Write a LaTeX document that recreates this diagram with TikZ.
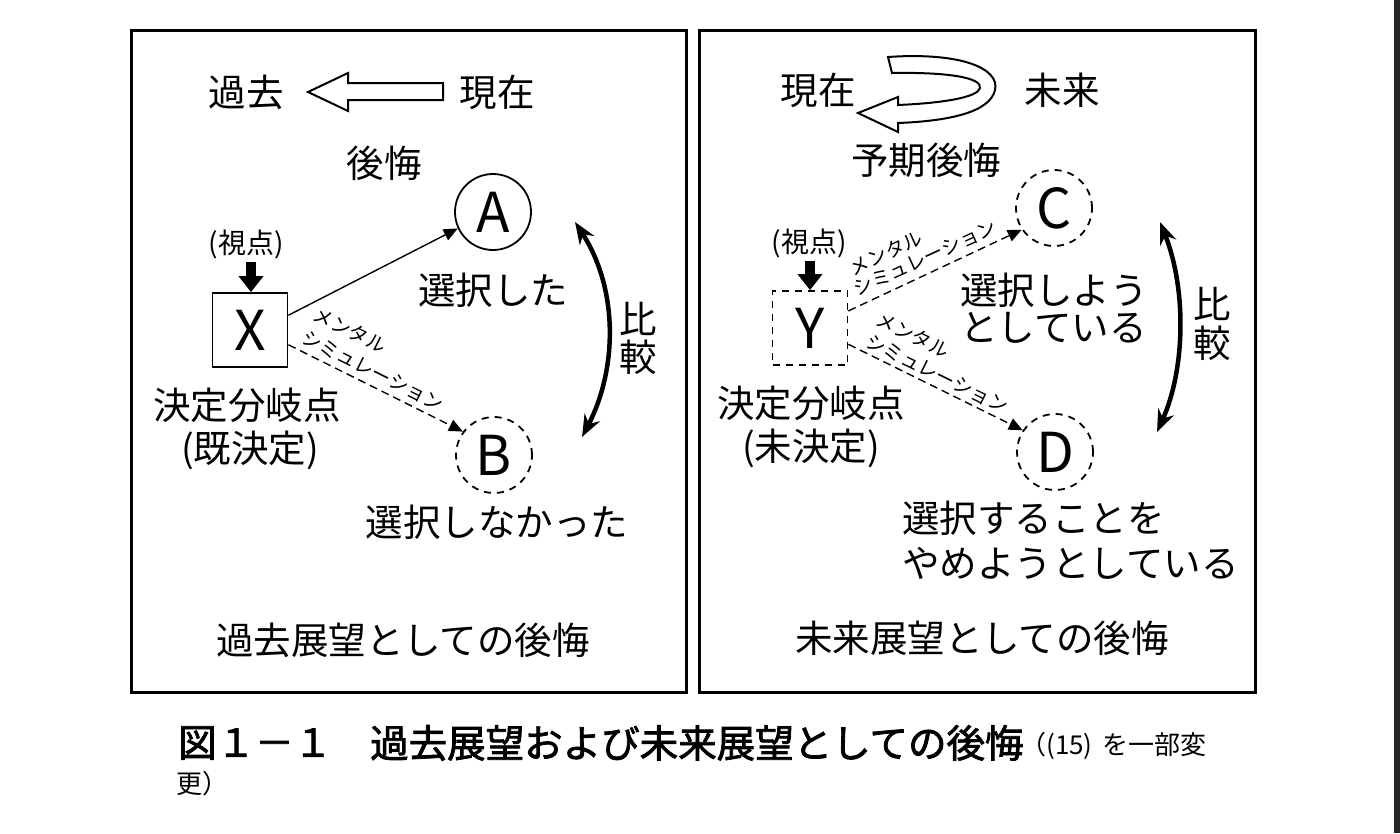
\documentclass[tikz,border=0pt]{standalone}
\usepackage{fontspec}
\newfontfamily\jp{Noto Sans CJK JP}
\newfontfamily\jpb[FakeBold=2]{Noto Sans CJK JP}
\usetikzlibrary{arrows.meta}
\begin{document}
\begin{tikzpicture}[x=1pt,y=-1pt,
  lab/.style={font=\jp\fontsize{37.5}{40}\selectfont, inner sep=0pt},
  vp/.style={font=\jp\fontsize{28}{30}\selectfont, inner sep=0pt},
  ment/.style={font=\jp\fontsize{19.5}{20}\selectfont, inner sep=0pt},
  panel/.style={draw, line width=3pt},
  solidc/.style={circle, draw, line width=1.8pt, minimum size=76pt, inner sep=0pt, font=\jp\fontsize{55}{58}\selectfont},
  dashc/.style={solidc, dash pattern=on 7pt off 6pt},
  boxx/.style={rectangle, draw, line width=1.8pt, minimum width=75pt, minimum height=74pt, inner sep=0pt, font=\jp\fontsize{55}{58}\selectfont},
  dboxx/.style={boxx, dash pattern=on 7pt off 6pt},
  conn/.style={line width=1.4pt, -{Triangle[length=14pt,width=12pt]}},
  dconn/.style={conn, dash pattern=on 8pt off 5pt},
  cmp/.style={line width=4.5pt, {Stealth[length=22pt,width=17pt]}-{Stealth[length=22pt,width=17pt]}},
  vparrow/.style={line width=10pt, -{Triangle[length=16pt,width=24pt]}},
  hollow/.style={draw, line width=2pt, line join=miter},
  captext/.style={font=\jpb\fontsize{38.5}{40}\selectfont, inner sep=0pt},
  capsmall/.style={font=\jp\fontsize{26}{28}\selectfont, inner sep=0pt}
]
\useasboundingbox (0,0) rectangle (1400,833);
\fill[white] (0,0) rectangle (1400,833);
\fill[black!85] (1394,0) rectangle (1400,833);

% panels
\draw[panel] (131,30) rectangle (686,692);
\draw[panel] (699,30) rectangle (1255,692);

%%%% LEFT PANEL
\node[lab] (past) at (246,92) {過去};
\node[lab] (nowL) at (497,92) {現在};
\draw[hollow] (308,92) -- (348,73) -- (348,83) -- (443,83) -- (443,100) -- (348,100) -- (348,111) -- cycle;
\node[lab] (regret) at (384,163) {後悔};

\node[solidc] (A) at (493,212) {A};
\node[lab] (chose) at (493,290) {選択した};
\node[vp] (vpL) at (246,244) {(視点)};
\node[boxx] (X) at (250,330) {X};
\draw[vparrow] (vpL.south) ++(5,3) coordinate (vpLs) -- (vpLs |- X.north);
\node[lab] (branchL) at (247,405) {決定分岐点};
\node[lab] (decidedL) at (250,450) {(既決定)};
\node[dashc] (B) at (494,455) {B};
\node[lab] (notchose) at (497,522) {選択しなかった};

\draw[conn] (X.21) -- (A.205);
\draw[dconn] (X.-21) -- (B.143);
\node[ment, rotate=-26.5] (mL1) at (350,330) {メンタル};
\node[ment, rotate=-26.5] (mL2) at (373,371) {シミュレーション};

\coordinate (cLt) at (575,222);
\coordinate (cLb) at (582,437);
\draw[cmp] (cLt) .. controls (619,290) and (617,370) .. (cLb);
\node[lab] (hiL) at (638,319) {比};
\node[lab] (kakuL) at (638,357) {較};

\node[lab] (titleL) at (403,640) {過去展望としての後悔};

%%%% RIGHT PANEL
\node[lab] (nowR) at (818,90) {現在};
\node[lab] (future) at (1062,90) {未来};
\draw[hollow] (888,57) .. controls (960,52) and (1000,68) .. (995,90)
  .. controls (990,112) and (950,121) .. (898,123) -- (898,132) -- (858,113) -- (898,97) -- (898,105)
  .. controls (945,103) and (978,97) .. (980,88)
  .. controls (982,78) and (950,72) .. (892,73) -- cycle;
\node[lab] (antreg) at (926,160) {予期後悔};

\node[dashc] (C) at (1054,208) {C};
\node[lab, anchor=west] (try1) at (960,290) {選択しよう};
\node[lab, anchor=west] (try2) at (960,328) {としている};
\node[vp] (vpR) at (809,243) {(視点)};
\node[dboxx] (Y) at (810,328) {Y};
\draw[vparrow] (vpR.south) ++(1,3) coordinate (vpRs) -- (vpRs |- Y.north);
\node[lab] (branchR) at (811,403) {決定分岐点};
\node[lab] (undecR) at (811,448) {(未決定)};
\node[dashc] (D) at (1055,452) {D};
\node[lab, anchor=west] (quit1) at (902,518) {選択することを};
\node[lab, anchor=west] (quit2) at (902,563) {やめようとしている};

\draw[dconn] (Y.24) -- (C.214);
\draw[dconn] (Y.-23) -- (D.146);
\node[ment, rotate=24.6] (mR1) at (886,253) {メンタル};
\node[ment, rotate=24.6] (mR2) at (925,258) {シミュレーション};
\node[ment, rotate=-26] (mR3) at (913,335) {メンタル};
\node[ment, rotate=-26] (mR4) at (937,374) {シミュレーション};

\coordinate (cRt) at (1160,222);
\coordinate (cRb) at (1157,432);
\draw[cmp] (cRt) .. controls (1187,290) and (1185,370) .. (cRb);
\node[lab] (hiR) at (1212,304) {比};
\node[lab] (kakuR) at (1212,343) {較};

\node[lab] (titleR) at (982,638) {未来展望としての後悔};

%%%% CAPTION
\node[captext, anchor=west] (fig) at (178,743) {図１－１};
\node[captext, anchor=west] (figtitle) at (370,743) {過去展望および未来展望としての後悔};
\node[capsmall, anchor=west] (src1) at (1020,746) {（(15)\hspace{10pt}を一部変};
\node[capsmall, anchor=west] (src2) at (176,784) {更）};
\end{tikzpicture}
\end{document}
